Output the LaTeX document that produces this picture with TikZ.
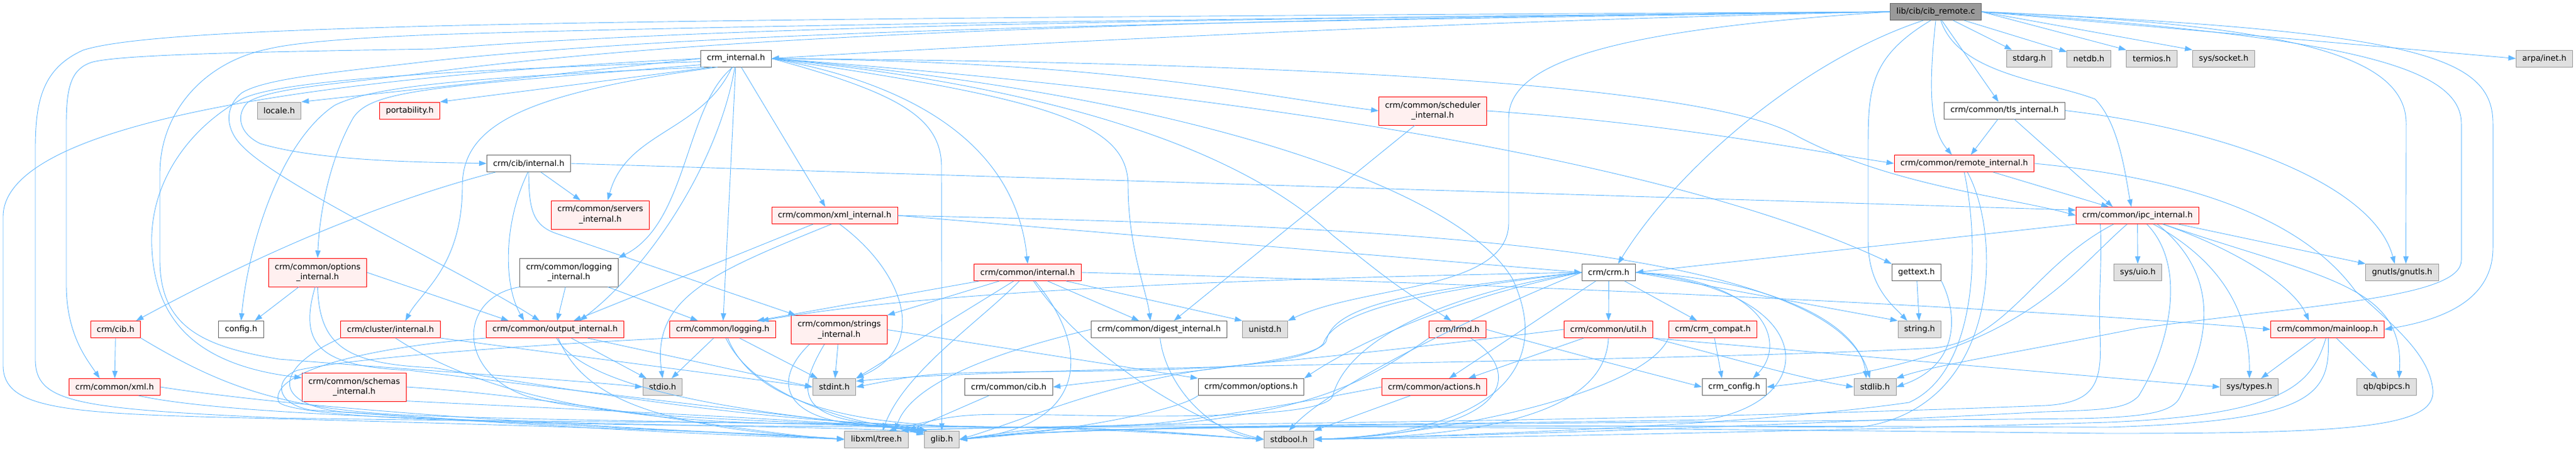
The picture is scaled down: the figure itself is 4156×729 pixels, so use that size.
\documentclass[tikz,border=0pt]{standalone}
\usepackage{fontspec}
\setmainfont{DejaVu Sans}
\usetikzlibrary{arrows.meta}
\definecolor{edgeblue}{HTML}{63B8FF}
\definecolor{sysfill}{HTML}{E0E0E0}
\definecolor{sysline}{HTML}{999999}
\definecolor{hdrline}{HTML}{666666}
\definecolor{truncfill}{HTML}{FFF0F0}
\definecolor{srcfill}{HTML}{999999}
\begin{document}
\begin{tikzpicture}[
        x=1pt, y=-1pt, % координаты в пикселях
        font=\fontsize{13}{16.5}\selectfont,
        box/.style={rectangle, line width=1pt, inner xsep=10pt, inner ysep=3pt, minimum height=27pt}, % базовый узел
        srcfile/.style={box, draw=hdrline, fill=srcfill},
        hdr/.style={box, draw=hdrline, fill=white},
        syshdr/.style={box, draw=sysline, fill=sysfill},
        redhdr/.style={box, draw=red, fill=truncfill},
        twol/.style={align=center, minimum height=46pt}, % две строки
        dep/.style={draw=edgeblue, line width=0.9pt, -{Triangle[length=12pt,width=8.5pt]}},
    ]
    \useasboundingbox (0,0) rectangle (4156,729);

    % уровень 0-2
    \node[srcfile] (cib) at (3123,19) {lib/cib/cib\_remote.c};
    \node[hdr] (crminternal) at (1187.5,94.5) {crm\_internal.h};
    \node[syshdr] (stdarg) at (3274,94.5) {stdarg.h};
    \node[syshdr] (netdb) at (3370,94.5) {netdb.h};
    \node[syshdr] (termios) at (3471.5,94.5) {termios.h};
    \node[syshdr] (syssocket) at (3587.5,94.5) {sys/socket.h};
    \node[syshdr] (arpainet) at (4105,94.5) {arpa/inet.h};
    \node[syshdr] (locale) at (450.5,178.5) {locale.h};
    \node[redhdr] (portability) at (661,178.5) {portability.h};
    \node[redhdr, twol] (schedint) at (2311.5,179) {crm/common/scheduler\\\_internal.h};
    \node[hdr] (tlsint) at (3234,178.5) {crm/common/tls\_internal.h};

    % уровень 3-5
    \node[hdr] (cibint) at (853,264) {crm/cib/internal.h};
    \node[redhdr] (remoteint) at (3169,264) {crm/common/remote\_internal.h};
    \node[redhdr, twol] (serversint) at (968.5,347) {crm/common/servers\\\_internal.h};
    \node[redhdr] (xmlint) at (1346.5,348) {crm/common/xml\_internal.h};
    \node[redhdr] (ipcint) at (3448.5,348) {crm/common/ipc\_internal.h};
    \node[redhdr, twol] (optionsint) at (512.5,440) {crm/common/options\\\_internal.h};
    \node[hdr, twol] (loggingint) at (918,440) {crm/common/logging\\\_internal.h};
    \node[redhdr] (commonint) at (1658,440) {crm/common/internal.h};
    \node[hdr] (crmh) at (2595.5,440) {crm/crm.h};
    \node[hdr] (gettext) at (3092,440) {gettext.h};
    \node[syshdr] (sysuio) at (3449,440) {sys/uio.h};
    \node[syshdr] (gnutls) at (3875.5,440) {gnutls/gnutls.h};

    % уровень 6
    \node[redhdr] (cibh) at (186.5,532) {crm/cib.h};
    \node[hdr] (config) at (389,532) {config.h};
    \node[redhdr] (clusterint) at (630,532) {crm/cluster/internal.h};
    \node[redhdr] (outputint) at (895.5,532) {crm/common/output\_internal.h};
    \node[redhdr] (logging) at (1166,532) {crm/common/logging.h};
    \node[redhdr, twol] (stringsint) at (1354,532.5) {crm/common/strings\\\_internal.h};
    \node[hdr] (digestint) at (1870,532) {crm/common/digest\_internal.h};
    \node[syshdr] (unistd) at (2041,532) {unistd.h};
    \node[redhdr] (lrmd) at (2351.5,532) {crm/lrmd.h};
    \node[redhdr] (util) at (2595,532) {crm/common/util.h};
    \node[redhdr] (crmcompat) at (2763.5,532) {crm/crm\_compat.h};
    \node[syshdr] (stringh) at (3097,532) {string.h};
    \node[redhdr] (mainloop) at (3755,532) {crm/common/mainloop.h};

    % уровень 7-8
    \node[redhdr] (xmlh) at (185,625) {crm/common/xml.h};
    \node[redhdr, twol] (schemasint) at (571.5,625) {crm/common/schemas\\\_internal.h};
    \node[syshdr] (stdio) at (1069,625) {stdio.h};
    \node[syshdr] (stdint) at (1346,625) {stdint.h};
    \node[hdr] (commoncib) at (1627.5,625) {crm/common/cib.h};
    \node[hdr] (options) at (2018.5,625) {crm/common/options.h};
    \node[redhdr] (actions) at (2314,625) {crm/common/actions.h};
    \node[hdr] (crmconfig) at (2798,625) {crm\_config.h};
    \node[syshdr] (stdlib) at (3025,625) {stdlib.h};
    \node[syshdr] (systypes) at (3629,625) {sys/types.h};
    \node[syshdr] (qbipcs) at (3850.5,625) {qb/qbipcs.h};
    \node[syshdr] (libxml) at (1414,709.5) {libxml/tree.h};
    \node[syshdr] (glib) at (1519.5,709.5) {glib.h};
    \node[syshdr] (stdbool) at (2079.5,709.5) {stdbool.h};

    % lib/cib/cib_remote.c
    \draw[dep] (cib.west) .. controls (2400,32) and (1600,72) .. (crminternal.east);
    \draw[dep] (cib) -- (stdarg);
    \draw[dep] (cib) -- (netdb);
    \draw[dep] (cib.east) -- (termios.north west);
    \draw[dep] (cib.east) -- (syssocket.north west);
    \draw[dep] (cib.east) -- (arpainet.west);
    \draw[dep] (cib) -- (tlsint);
    \draw[dep] (cib.south) .. controls (3110,150) and (3115,210) .. ([xshift=-20]remoteint.north);
    \draw[dep] (cib.215) .. controls (2900,100) and (2700,280) .. ([xshift=15]crmh.north);
    \draw[dep] (cib.240) .. controls (3020,90) and (3014,140) .. (3014,230) -- (3014,390) .. controls (3014,460) and (3050,490) .. ([xshift=-20]stringh.north);
    \draw[dep] (cib.300) .. controls (3160,120) and (3300,130) .. (3380,160) .. controls (3420,200) and (3430,290) .. ([xshift=-10]ipcint.north);
    \draw[dep] (cib.east) .. controls (3700,40) and (3882,90) .. (3882,200) -- ([xshift=6]gnutls.north);
    \draw[dep] (cib.east) .. controls (3900,50) and (4022,90) .. (4022,200) -- (4022,400) .. controls (4022,480) and (3950,515) .. (mainloop.east);
    \draw[dep] (cib.east) .. controls (3800,60) and (3971,110) .. (3971,200) -- (3971,420) .. controls (3971,480) and (3750,490) .. (3450,530) .. controls (3250,570) and (3120,590) .. (stdlib.north east);
    \draw[dep] (cib.west) .. controls (2650,45) and (2434,90) .. (2434,190) -- (2434,360) .. controls (2434,470) and (2200,460) .. (unistd.north east);
    \draw[dep] (cib.west) .. controls (2000,30) and (1200,50) .. (700,116) .. controls (560,135) and (440,140) .. (400,165) .. controls (380,185) and (385,215) .. (420,232) .. controls (520,262) and (700,262) .. (cibint.west);
    \draw[dep] (cib.west) .. controls (2000,35) and (1200,45) .. (700,98) .. controls (560,115) and (430,125) .. (390,150) .. controls (360,175) and (365,210) .. (390,235) .. controls (450,300) and (750,440) .. ([xshift=-25]outputint.north);
    \draw[dep] (cib.west) .. controls (2000,30) and (1200,40) .. (700,79) .. controls (400,84) and (200,88) .. (150,100) .. controls (115,110) and (107,140) .. (107,200) -- (107,460) .. controls (107,540) and (140,580) .. (xmlh.150);
    \draw[dep] (cib.west) .. controls (2000,25) and (1200,30) .. (700,42) .. controls (400,50) and (200,60) .. (134,81) .. controls (70,110) and (57,160) .. (57,240) -- (57,580) .. controls (57,650) and (120,660) .. (450,675) .. controls (1000,684) and (1420,680) .. (glib.150);
    \draw[dep] (cib.west) .. controls (2000,30) and (1200,40) .. (700,56) .. controls (550,62) and (470,70) .. (433,79) .. controls (330,100) and (258,180) .. (258,280) -- (258,420) .. controls (258,530) and (330,560) .. (450,580) .. controls (700,600) and (900,612) .. (stdio.west);

    % crm_internal.h
    \draw[dep] (crminternal.west) -- (locale.north east);
    \draw[dep] (crminternal.200) -- (portability.north east);
    \draw[dep] (crminternal.195) .. controls (750,125) and (600,140) .. (540,170) .. controls (450,230) and (400,400) .. (config.north);
    \draw[dep] (crminternal.190) .. controls (700,140) and (600,145) .. (570,190) .. controls (530,260) and (515,350) .. (optionsint.north);
    \draw[dep] (crminternal.205) .. controls (850,150) and (746,200) .. (746,300) .. controls (746,430) and (680,470) .. ([xshift=24]clusterint.north);
    \draw[dep] (crminternal.185) .. controls (700,115) and (450,130) .. (390,160) .. controls (300,210) and (240,300) .. (245,400) .. controls (250,520) and (320,590) .. (schemasint.170);
    \draw[dep] (crminternal.180) .. controls (500,125) and (5,200) .. (5,350) -- (5,590) .. controls (5,660) and (100,668) .. (400,675) .. controls (900,688) and (1250,700) .. (libxml.west);
    \draw[dep] (crminternal) to[out=-115,in=75] ([xshift=12]serversint.north);
    \draw[dep] (crminternal.250) .. controls (1105,170) and (1110,360) .. (loggingint.north east);
    \draw[dep] (crminternal.262) .. controls (1160,260) and (1050,430) .. ([xshift=40]outputint.north);
    \draw[dep] (crminternal) -- (logging);
    \draw[dep] (crminternal) -- ([xshift=-15]xmlint.north);
    \draw[dep] (crminternal.east) .. controls (1500,140) and (1640,250) .. (commonint.north);
    \draw[dep] (crminternal.east) .. controls (1450,150) and (1519,190) .. (1519,270) -- (glib.north);
    \draw[dep] (crminternal.east) .. controls (1700,160) and (1820,200) .. (1820,300) .. controls (1820,400) and (1850,470) .. ([xshift=-14]digestint.north);
    \draw[dep] (crminternal.east) .. controls (1800,100) and (2000,150) .. (schedint.west);
    \draw[dep] (crminternal.east) .. controls (1700,140) and (2000,240) .. (2150,380) .. controls (2250,460) .. ([xshift=-10]lrmd.north);
    \draw[dep] (crminternal.east) .. controls (1900,150) and (2350,300) .. (2440,450) .. controls (2510,600) and (2400,700) .. (stdbool.east);
    \draw[dep] (crminternal.east) .. controls (2000,100) and (2750,130) .. (2900,220) .. controls (3050,300) and (3250,320) .. (ipcint.west);
    \draw[dep] (crminternal.east) .. controls (2000,150) and (2700,260) .. (gettext.north west);

    % crm/common/scheduler_internal.h, crm/cib/internal.h
    \draw[dep] (schedint) -- ([xshift=24]digestint.north);
    \draw[dep] (schedint.east) .. controls (2700,200) and (2900,240) .. (remoteint.west);
    \draw[dep] (cibint) .. controls (600,330) and (400,420) .. ([xshift=33]cibh.north);
    \draw[dep] (cibint) -- ([xshift=-32]serversint.north);
    \draw[dep] (cibint.265) .. controls (812,360) and (812,460) .. ([xshift=-50]outputint.north);
    \draw[dep] (cibint.south) .. controls (853,340) and (860,365) .. (900,378) -- ([xshift=-70]stringsint.north);
    \draw[dep] (cibint.east) -- (ipcint.175);

    % options, cib.h, xml.h, cluster, schemas
    \draw[dep] (optionsint) -- ([xshift=22]config.north);
    \draw[dep] (optionsint.east) -- ([xshift=-75]outputint.north);
    \draw[dep] (optionsint.260) .. controls (480,560) and (520,592) .. (660,598) .. controls (1000,640) and (1350,680) .. (glib.155);
    \draw[dep] (optionsint.south) .. controls (515,560) and (560,588) .. (700,594) .. controls (1100,660) and (1300,686) .. (1600,690) .. controls (1850,690) and (1950,705) .. (stdbool.west);
    \draw[dep] (cibh) -- (xmlh);
    \draw[dep] (cibh.south east) .. controls (350,620) and (450,660) .. (650,670) .. controls (1000,684) and (1420,680) .. (glib.160);
    \draw[dep] (xmlh.east) .. controls (550,670) and (1100,695) .. (libxml.west);
    \draw[dep] (xmlh.340) .. controls (450,690) and (1420,684) .. (glib.165);
    \draw[dep] (clusterint.south east) -- (stdint.west);
    \draw[dep] (clusterint.south west) .. controls (450,590) and (430,650) .. (550,665) .. controls (900,690) and (1250,700) .. (libxml.west);
    \draw[dep] (clusterint.300) .. controls (720,600) and (900,684) .. (1300,684) .. controls (1420,682) .. (glib.150);
    \draw[dep] (schemasint.east) .. controls (900,640) and (1200,700) .. (libxml.west);
    \draw[dep] (schemasint.345) .. controls (900,660) and (1420,682) .. (glib.160);

    % logging, output
    \draw[dep] (loggingint) -- (outputint);
    \draw[dep] (loggingint) -- ([xshift=-40]logging.north);
    \draw[dep] (loggingint.south west) .. controls (740,480) and (735,600) .. (850,640) .. controls (1000,684) and (1420,680) .. (glib.155);
    \draw[dep] (outputint) -- (stdio);
    \draw[dep] (outputint.345) -- (stdint.west);
    \draw[dep] (outputint.290) .. controls (940,640) and (1050,690) .. (libxml.west);
    \draw[dep] (outputint.280) .. controls (960,660) and (1420,680) .. (glib.165);
    \draw[dep] (outputint.south west) .. controls (600,560) and (430,600) .. (450,650) .. controls (500,690) and (1300,688) .. (1600,690) .. controls (1850,690) and (1950,705) .. (stdbool.west);
    \draw[dep] (logging) -- (stdio);
    \draw[dep] (logging) -- (stdint);
    \draw[dep] (logging.290) .. controls (1210,630) and (1350,684) .. (glib.150);
    \draw[dep] (logging.south west) .. controls (800,560) and (560,580) .. (480,598) .. controls (445,610) and (440,650) .. (500,662) .. controls (900,690) and (1100,700) .. (libxml.west);
    \draw[dep] (logging.300) .. controls (1220,660) and (1400,688) .. (1600,690) .. controls (1850,690) and (1950,705) .. (stdbool.west);

    % xml_internal, strings_internal
    \draw[dep] (xmlint) -- ([xshift=30]outputint.north);
    \draw[dep] (xmlint.250) .. controls (1150,440) and (1050,480) .. (stdio.north);
    \draw[dep] (xmlint.300) .. controls (1460,440) and (1500,560) .. (stdint.north east);
    \draw[dep] (xmlint.east) -- (crmh.west);
    \draw[dep] (xmlint.east) .. controls (2200,365) and (2950,390) .. ([xshift=-8]stdlib.north);
    \draw[dep] (stringsint) -- (stdint);
    \draw[dep] (stringsint.east) -- (options.north west);
    \draw[dep] ([xshift=-48]stringsint.south) .. controls (1240,620) and (1270,680) .. (1400,686) .. controls (1450,688) .. (glib.160);
    \draw[dep] ([xshift=-24]stringsint.south) .. controls (1280,640) and (1290,680) .. (1450,687) .. controls (1800,690) and (1950,705) .. (stdbool.west);

    % crm/common/internal.h, digest, cib, options
    \draw[dep] (commonint) -- ([xshift=55]logging.north);
    \draw[dep] (commonint) -- (stringsint.north east);
    \draw[dep] (commonint) -- (stdint.north east);
    \draw[dep] (commonint) .. controls (1580,520) and (1460,600) .. ([xshift=10]libxml.north);
    \draw[dep] (commonint) .. controls (1760,560) and (1760,690) .. (glib.east);
    \draw[dep] (commonint) .. controls (1760,590) and (1950,690) .. (stdbool.west);
    \draw[dep] (commonint) -- (digestint);
    \draw[dep] (commonint.east) .. controls (2500,460) and (3300,500) .. (mainloop.west);
    \draw[dep] (commonint) -- (unistd.north west);
    \draw[dep] (digestint.west) .. controls (1600,570) and (1470,620) .. ([xshift=30]libxml.north);
    \draw[dep] (digestint) .. controls (1880,620) and (1950,700) .. (stdbool.west);
    \draw[dep] (commoncib) -- (libxml.north east);
    \draw[dep] (options.south west) .. controls (1900,665) and (1700,700) .. (glib.east);

    % crm/crm.h
    \draw[dep] (crmh) -- ([xshift=24]actions.north);
    \draw[dep] (crmh) -- (util);
    \draw[dep] (crmh) -- (crmcompat);
    \draw[dep] (crmh.east) -- (stringh.north west);
    \draw[dep] (crmh.east) .. controls (2850,450) and (3000,520) .. ([xshift=-14]stdlib.north);
    \draw[dep] (crmh.east) .. controls (2860,455) and (2880,560) .. ([xshift=30]crmconfig.north);
    \draw[dep] (crmh.east) .. controls (2940,470) and (2940,650) .. (2750,678) .. controls (2300,686) and (1750,686) .. (glib.east);
    \draw[dep] (crmh.west) .. controls (2250,475) and (2150,510) .. (2135,555) .. controls (2100,595) and (1900,598) .. (1700,600) .. controls (1500,602) .. (stdint.east);
    \draw[dep] (crmh.west) .. controls (2250,470) and (2150,500) .. (2140,550) .. controls (2130,585) and (1900,600) .. (commoncib.east);
    \draw[dep] (crmh.west) .. controls (2300,490) and (2150,580) .. (options.north east);
    \draw[dep] (crmh.west) .. controls (2300,480) and (2170,560) .. (2150,640) .. controls (2135,680) and (1800,672) .. (1700,670) .. controls (1550,668) .. ([xshift=20]libxml.north);
    \draw[dep] (crmh.west) .. controls (2400,500) and (2150,620) .. (stdbool.north);
    \draw[dep] (crmh.west) .. controls (2000,450) and (1500,470) .. ([xshift=62]logging.north);

    % crm/lrmd.h, util.h, crm_compat.h, actions.h
    \draw[dep] (lrmd.south west) .. controls (2200,620) and (2120,660) .. (1900,684) .. controls (1750,688) .. (glib.east);
    \draw[dep] (lrmd) .. controls (2455,600) and (2450,700) .. (stdbool.east);
    \draw[dep] (lrmd.east) .. controls (2550,575) and (2650,600) .. (crmconfig.west);
    \draw[dep] (util) -- ([xshift=55]actions.north);
    \draw[dep] (util.south) .. controls (2590,650) and (2450,705) .. (stdbool.east);
    \draw[dep] (util.west) .. controls (2300,560) and (2150,575) .. (2000,590) .. controls (1800,610) and (1650,680) .. (glib.east);
    \draw[dep] (util.south east) .. controls (2800,580) and (2900,610) .. (stdlib.west);
    \draw[dep] (util.south east) .. controls (3000,575) and (3400,610) .. (systypes.west);
    \draw[dep] (crmcompat) -- ([xshift=-20]crmconfig.north);
    \draw[dep] (crmcompat.south west) .. controls (2650,640) and (2300,705) .. (stdbool.east);
    \draw[dep] (actions) -- (stdbool.north east);
    \draw[dep] (actions.west) .. controls (2100,650) and (1900,686) .. (1800,688) .. controls (1700,688) .. (glib.east);

    % gettext.h, remote_internal.h, tls_internal.h
    \draw[dep] (gettext) -- (stringh);
    \draw[dep] (gettext.south east) .. controls (3160,510) and (3160,590) .. (stdlib.east);
    \draw[dep] (tlsint) -- (remoteint);
    \draw[dep] (tlsint) -- ([xshift=-40]ipcint.north);
    \draw[dep] (tlsint.east) .. controls (3600,210) and (3830,300) .. ([xshift=-12]gnutls.north);
    \draw[dep] (remoteint) -- (ipcint);
    \draw[dep] (remoteint.south) .. controls (3195,400) and (3190,600) .. (3080,650) .. controls (2800,690) and (2300,705) .. (stdbool.east);
    \draw[dep] (remoteint.290) .. controls (3230,380) and (3230,660) .. (3000,690) .. controls (2300,686) and (1750,686) .. (glib.east);
    \draw[dep] (remoteint.east) .. controls (3550,290) and (3720,360) .. (3800,470) .. controls (3880,540) and (3920,580) .. (3925,630) .. controls (3930,690) and (3800,700) .. (3400,700) .. controls (2500,690) and (1700,684) .. ([xshift=40]libxml.north);

    % crm/common/ipc_internal.h, mainloop.h
    \draw[dep] (ipcint) -- (sysuio);
    \draw[dep] (ipcint) .. controls (3580,420) and (3630,500) .. (systypes.north);
    \draw[dep] (ipcint) .. controls (3600,400) and (3700,460) .. ([xshift=-30]mainloop.north);
    \draw[dep] (ipcint) -- (gnutls.north west);
    \draw[dep] (ipcint) .. controls (3750,450) and (3880,460) .. ([xshift=20]qbipcs.north);
    \draw[dep] (ipcint.south west) -- (crmh.east);
    \draw[dep] (ipcint.200) .. controls (3280,430) and (3240,550) .. (3120,562) .. controls (2700,585) and (1650,590) .. (stdint.15);
    \draw[dep] (ipcint.220) .. controls (3330,450) and (3260,580) .. (crmconfig.east);
    \draw[dep] ([xshift=15]ipcint.south) .. controls (3530,430) and (3500,560) .. (3450,640) .. controls (3430,660) and (3400,662) .. (3300,665) .. controls (2800,692) and (2300,705) .. (stdbool.east);
    \draw[dep] ([xshift=32]ipcint.south) .. controls (3590,450) and (3560,560) .. (3515,645) .. controls (3500,668) and (3450,674) .. (3350,676) .. controls (2300,686) and (1750,686) .. (glib.east);
    \draw[dep] ([xshift=-60]ipcint.south) .. controls (3392,420) and (3385,480) .. (3388,540) .. controls (3392,620) and (3380,650) .. (3300,655) .. controls (2500,686) and (1700,684) .. (libxml.north east);
    \draw[dep] (mainloop) -- (systypes);
    \draw[dep] (mainloop) -- (qbipcs);
    \draw[dep] (mainloop.260) .. controls (3730,620) and (3690,670) .. (3400,682) .. controls (2800,700) and (2300,708) .. (stdbool.east);
    \draw[dep] (mainloop.275) .. controls (3760,640) and (3730,680) .. (3400,690) .. controls (2300,686) and (1750,686) .. (glib.east);

\end{tikzpicture}
\end{document}
